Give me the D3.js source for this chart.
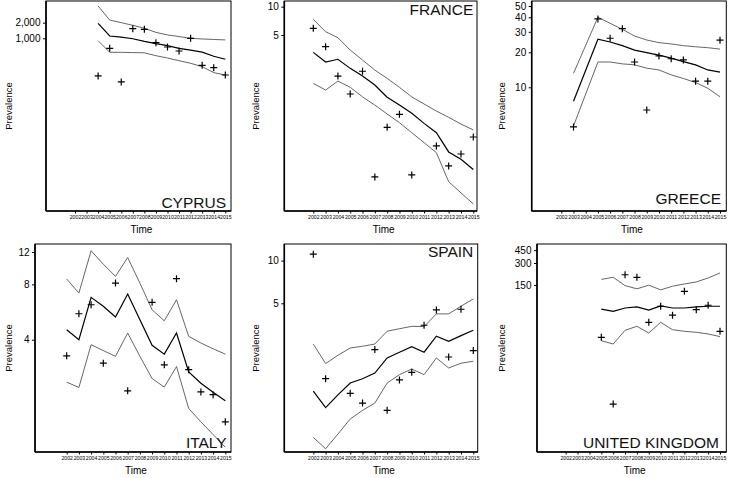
<!DOCTYPE html>
<html>
<head>
<meta charset="utf-8">
<script src="https://cdn.jsdelivr.net/npm/d3@7"></script>
<style>
html,body{margin:0;padding:0;background:#fff;}
svg{display:block;font-family:"Liberation Sans",Arial,sans-serif;}
</style>
</head>
<body>
<svg id="chart" width="729" height="478"></svg>
<script>
// ---------- DATA ----------
const years = [2002,2003,2004,2005,2006,2007,2008,2009,2010,2011,2012,2013,2014,2015];
const countries = ["CYPRUS","FRANCE","GREECE","ITALY","SPAIN","UNITED KINGDOM"];

// observed prevalence (null = no observation)
const cyprusObs = [null,null,188,641,144,1531,1490,823,680,569,1000,302,272,196];
const cyprusFit = [null,null,1945,1107,1050,980,870,790,720,640,590,540,450,394];
const cyprusLo  = [null,null,900,537,537,530,525,462,417,370,330,284,218,196];
const cyprusHi  = [null,null,4190,2250,2000,1780,1560,1300,1160,1080,1000,970,950,930];

const franceObs = [5.89,3.76,1.83,1.18,2.06,0.155,0.522,0.718,0.163,null,0.331,0.203,0.272,0.412];
const franceFit = [3.27,2.58,2.76,2.21,1.83,1.47,1.09,0.90,0.736,0.575,0.458,0.286,0.239,0.186];
const franceLo  = [1.53,1.30,1.62,1.39,1.10,0.90,0.724,0.585,0.458,0.359,0.281,0.138,0.105,0.080];
const franceHi  = [7.33,5.42,4.68,3.46,2.71,2.12,1.73,1.39,1.10,0.924,0.778,0.667,0.566,0.49];

const greeceObs = [null,4.56,null,38.7,26.4,31.9,16.5,6.38,18.6,17.6,17.2,11.3,11.3,25.4];
const greeceFit = [null,7.6,null,25.9,24.5,22.8,20.9,19.9,18.9,17.8,16.6,15.6,14.1,13.5];
const greeceLo  = [null,4.65,null,16.5,16.5,15.9,15.6,14.6,14.1,12.8,11.9,11.0,9.8,8.3];
const greeceHi  = [null,13.2,null,40,35.5,31.5,27.6,25.5,24.2,23.6,22.8,22.3,21.9,21.3];

const italyObs = [3.27,5.54,6.20,2.98,8.13,2.11,null,6.39,2.92,8.59,2.75,2.08,2.01,1.43];
const italyFit = [4.53,4.0,6.80,6.08,5.32,7.09,5.14,3.73,3.34,4.35,2.67,2.32,2.07,1.86];
const italyLo  = [2.35,2.20,3.76,3.49,3.25,4.35,3.25,2.46,2.21,2.86,1.69,1.43,1.22,1.04];
const italyHi  = [8.56,7.18,12.2,10.3,8.85,11.2,8.13,5.82,5.07,6.60,4.17,3.84,3.57,3.34];

const spainObs = [11.1,1.47,null,1.16,0.99,2.36,0.88,1.44,1.63,3.50,4.49,2.09,4.54,2.32];
const spainFit = [1.20,0.92,1.13,1.37,1.47,1.61,2.06,2.26,2.47,2.26,2.93,2.70,2.96,3.23];
const spainLo  = [0.567,0.471,0.598,0.764,0.879,0.99,1.37,1.57,1.72,1.57,2.06,1.75,1.89,1.95];
const spainHi  = [2.58,1.88,2.15,2.42,2.49,2.58,3.18,3.31,3.44,3.43,4.21,4.21,4.77,5.37];

const ukObs = [null,null,null,28.8,3.5,207,191,46.2,76.6,57.8,122.7,68.7,79.1,34.8];
const ukFit = [null,null,null,70.2,65.2,72.5,75,68.1,77.3,72.5,72.5,75,76.6,76.6];
const ukLo  = [null,null,null,25.9,23.3,35.9,40.7,33.0,46.2,36.6,34.8,33.7,32,29.4];
const ukHi  = [null,null,null,179,191,147,132.8,149,128.6,144,154.8,165,187,219];

// y-axis tick values and labels
const cyprusTicks = [1000,2000];
const franceTicks = [5,10];
const greeceTicks = [10,20,30,40,50];
const italyTicks  = [4,8,12];
const spainTicks  = [5,10];
const ukTicks     = [150,300,450];

const seriesByCountry = [
  [cyprusObs,cyprusFit,cyprusLo,cyprusHi,cyprusTicks],
  [franceObs,franceFit,franceLo,franceHi,franceTicks],
  [greeceObs,greeceFit,greeceLo,greeceHi,greeceTicks],
  [italyObs,italyFit,italyLo,italyHi,italyTicks],
  [spainObs,spainFit,spainLo,spainHi,spainTicks],
  [ukObs,ukFit,ukLo,ukHi,ukTicks]
];

// ---------- LAYOUT (positions only) ----------
const layout = [
  {l:46,   r:231,   t:1,   b:211, x0:75,    x1:225.3, ymin:0.47,  ymax:5230, lab:"bottom", labY:208, labR:226, yLabX:8},
  {l:284.3,r:477,   t:1,   b:211, x0:313.3, x1:473.3, ymin:0.0674,ymax:11.49,lab:"top",    labY:15,  labR:473.3, yLabX:255},
  {l:531.7,r:726.3, t:1,   b:211, x0:561.3, x1:720,   ymin:0.864, ymax:55.2, lab:"bottom", labY:204, labR:721, yLabX:501},
  {l:35,   r:231,   t:244, b:452, x0:66.7,  x1:225.3, ymin:0.98,  ymax:13.27,lab:"bottom", labY:448, labR:226.7, yLabX:8},
  {l:284.3,r:477.7, t:244, b:452, x0:313.3, x1:473.3, ymin:0.447, ymax:13.1, lab:"top",    labY:257, labR:473.3, yLabX:255},
  {l:537,  r:726.3, t:244, b:452, x0:565.7, x1:720,   ymin:0.773, ymax:546,  lab:"bottom", labY:448, labR:719, yLabX:501}
];

const svg = d3.select("#chart");
svg.append("rect").attr("width",729).attr("height",478).attr("fill","#fff");

const fmt = d3.format(",");

countries.forEach((name,i) => {
  const L = layout[i];
  const [obs,fit,lo,hi,ticks] = seriesByCountry[i];
  const g = svg.append("g");

  const x = d3.scaleLinear().domain([years[0], years[years.length-1]]).range([L.x0, L.x1]);
  const y = d3.scaleLog().domain([L.ymin, L.ymax]).range([L.b, L.t]);

  // frame
  g.append("rect").attr("x",L.l).attr("y",L.t).attr("width",L.r-L.l).attr("height",L.b-L.t)
    .attr("fill","none").attr("stroke","#000").attr("stroke-width",1);

  // x axis
  const xAxis = d3.axisBottom(x).tickValues(years).tickFormat(d3.format("d")).tickSize(2.5).tickPadding(1.5);
  const xg = g.append("g").attr("transform",`translate(0,${L.b})`).call(xAxis);
  xg.select(".domain").attr("d",`M${L.l},0H${L.r}`).attr("stroke-width",1.6);
  xg.selectAll("text").attr("font-size",5.2).attr("font-family","Liberation Sans, Arial, sans-serif").attr("fill","#000");

  // y axis
  const yAxis = d3.axisLeft(y).tickValues(ticks).tickFormat(d => fmt(d)).tickSize(3).tickPadding(2.5);
  const yg = g.append("g").attr("transform",`translate(${L.l},0)`).call(yAxis);
  yg.select(".domain").attr("d",`M0,${L.t}V${L.b}`).attr("stroke-width",1.6);
  yg.selectAll("text").attr("font-size",10).attr("font-family","Liberation Sans, Arial, sans-serif").attr("fill","#000");

  // axis titles
  g.append("text").attr("x",(L.l+L.r)/2 + 3).attr("y",L.b+22).attr("text-anchor","middle")
    .attr("font-size",10).text("Time");
  g.append("text").attr("transform",`translate(${L.yLabX},${(L.t+L.b)/2}) rotate(-90)`)
    .attr("text-anchor","middle").attr("dominant-baseline","central").attr("font-size",9.5).text("Prevalence");

  // lines
  const line = d3.line().defined(d => d[1] != null).x(d => x(d[0])).y(d => y(d[1]));
  const toPts = arr => years.map((yr,k)=>[yr,arr[k]]).filter(d => d[1] != null);
  [[hi,"#555",0.9],[lo,"#555",0.9],[fit,"#000",1.2]].forEach(([arr,col,w]) => {
    g.append("path").datum(toPts(arr)).attr("d",line).attr("fill","none")
      .attr("stroke",col).attr("stroke-width",w);
  });

  // observed points as crosses
  g.selectAll(".pt").data(toPts(obs)).enter().append("path")
    .attr("transform",d=>`translate(${x(d[0])},${y(d[1])})`)
    .attr("d","M-3.5,0H3.5M0,-3.5V3.5").attr("stroke","#000").attr("stroke-width",1.2);

  // country label
  g.append("text").attr("x",L.labR).attr("y",L.labY).attr("text-anchor","end")
    .attr("font-size",15.5).attr("fill","#111").text(name);
});
</script>
</body>
</html>
